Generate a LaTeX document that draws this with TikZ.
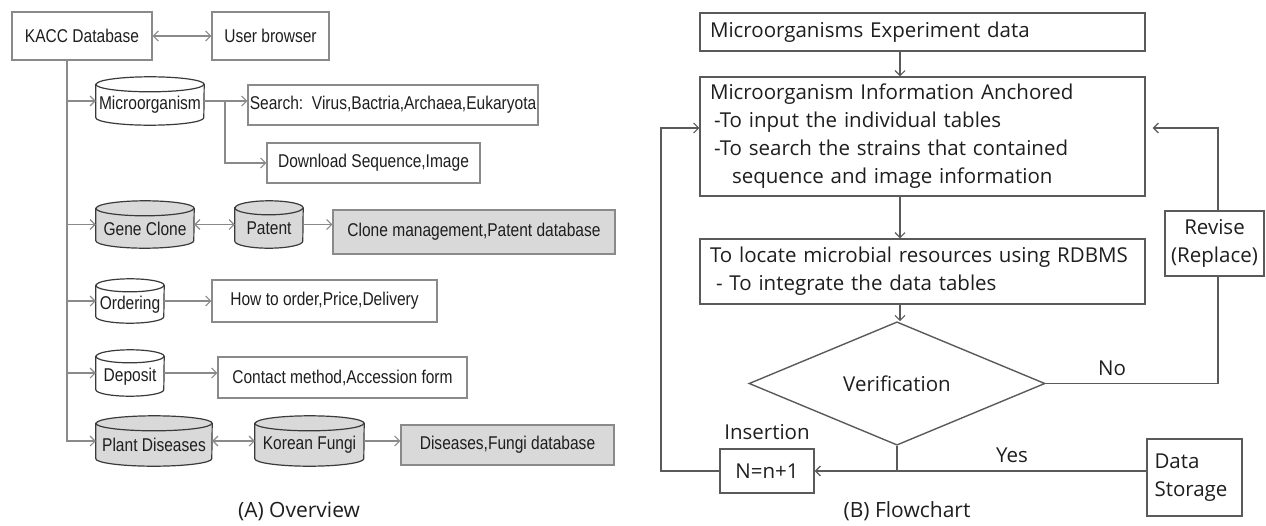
\documentclass[tikz,border=0pt]{standalone}
\usepackage{fontspec}
\usetikzlibrary{shapes.geometric,arrows.meta,calc,backgrounds}
\newfontfamily\lfont[FakeStretch=0.84]{Liberation Sans}
\newfontfamily\rfont{Open Sans}
\definecolor{lline}{HTML}{8A8A8A}
\definecolor{cylline}{HTML}{3A3A3A}
\definecolor{gfill}{HTML}{D9D9D9}
\definecolor{rline}{HTML}{5A5A5A}
\definecolor{txt}{HTML}{1E1E1E}
% cylinder outline drawn behind a named rectangle node: name, x radius, y radius, fill
\newcommand\dbcyl[4]{%
  \begin{scope}[on background layer]
    \filldraw[draw=cylline, line width=1.2pt, fill=#4]
      ($(#1.north west)+(0,#3)$) -- ($(#1.south west)+(0,-#3)$)
      arc[start angle=180, end angle=360, x radius=#2pt, y radius=#3pt]
      -- ($(#1.north east)+(0,#3)$)
      arc[start angle=0, end angle=180, x radius=#2pt, y radius=#3pt] -- cycle;
    \draw[draw=cylline, line width=1.2pt] ($(#1.north west)+(0,#3)$)
      arc[start angle=180, end angle=360, x radius=#2pt, y radius=#3pt];
  \end{scope}}
\newcommand\lowtext[1]{\raisebox{-4pt}[\height][\depth]{#1}}
\begin{document}
\begin{tikzpicture}[x=1pt,y=-1pt,
  ltext/.style={font=\lfont\fontsize{18.5}{21}\selectfont, text=txt},
  rtext/.style={font=\rfont\fontsize{20.5}{28}\selectfont, text=txt},
  lbox/.style={ltext, draw=lline, line width=1.2pt, inner sep=0pt, minimum width=#1},
  gbox/.style={lbox=#1, fill=gfill},
  db/.style={ltext, rectangle, inner sep=0pt, minimum width=#1},
  rbox/.style={rtext, draw=rline, line width=1.4pt, inner sep=0pt, minimum width=#1},
  lcon/.style={draw=lline, line width=1.2pt},
  rcon/.style={draw=rline, line width=1.4pt},
  tip/.style={-{Straight Barb[length=5pt,width=10pt,line width=1.1pt]}},
  dtip/.style={{Straight Barb[length=5pt,width=10pt,line width=1.1pt]}-{Straight Barb[length=5pt,width=10pt,line width=1.1pt]}},
  captext/.style={font=\rfont\fontsize{21}{24}\selectfont, text=txt}
]
\useasboundingbox (0,0) rectangle (1266,525);

% ---------- (A) Overview ----------
\node[lbox=140pt, minimum height=48pt] (kacc) at (82,36) {KACC Database};
\node[lbox=117pt, minimum height=48pt] (user) at (270.5,36) {User browser};
\node[db=108pt, minimum height=48pt] (micro) at (150,101) {\lowtext{Microorganism}};
\node[lbox=290pt, minimum height=40pt] (search) at (393,105) {Search:\ \ Virus,Bactria,Archaea,Eukaryota};
\node[lbox=213pt, minimum height=40pt] (download) at (373.5,163) {Download Sequence,Image};
\node[db=98pt, minimum height=47pt] (gene) at (145,224.5) {\lowtext{Gene Clone}};
\node[db=68pt, minimum height=47pt] (patent) at (269,224.5) {\lowtext{Patent}};
\node[gbox=282pt, minimum height=44pt] (clone) at (474,232) {Clone management,Patent database};
\node[db=68pt, minimum height=44pt] (ordering) at (130,301) {\lowtext{Ordering}};
\node[lbox=225pt, minimum height=42pt] (howto) at (324.5,301) {How to order,Price,Delivery};
\node[db=68pt, minimum height=46pt] (deposit) at (130,373) {\lowtext{Deposit}};
\node[lbox=249pt, minimum height=41pt] (contact) at (342.5,377.5) {Contact method,Accession form};
\node[db=116pt, minimum height=50pt] (plant) at (154,441) {\lowtext{Plant Diseases}};
\node[db=109pt, minimum height=50pt] (korean) at (309.5,441) {\lowtext{Korean Fungi}};
\node[gbox=213pt, minimum height=40pt] (diseases) at (507.5,445) {Diseases,Fungi database};

\dbcyl{micro}{54}{7.5}{white}
\dbcyl{gene}{49}{7.5}{gfill}
\dbcyl{patent}{34}{7}{gfill}
\dbcyl{ordering}{34}{6.5}{white}
\dbcyl{deposit}{34}{6.5}{white}
\dbcyl{plant}{58}{7.5}{gfill}
\dbcyl{korean}{54.5}{7.5}{gfill}

\coordinate (t0) at (67,60);
\coordinate (m1) at (225,101);

\draw[lcon,dtip] (kacc) -- (user);
\draw[lcon] (t0) -- (67,442);
\draw[lcon,tip] (t0) |- (micro.west);
\draw[lcon,tip] (t0) |- (gene.west);
\draw[lcon,tip] (t0) |- (ordering.west);
\draw[lcon,tip] (t0) |- (deposit.west);
\draw[lcon,tip] (t0) |- (plant.west);
\draw[lcon] (micro.east) -- (m1);
\draw[lcon,tip] (m1) -- (m1 -| search.west);
\draw[lcon,tip] (m1) |- (download.west);
\draw[lcon,dtip] (gene.east) -- (patent.west);
\draw[lcon,tip] (patent.east) -- (patent.east -| clone.west);
\draw[lcon,tip] (ordering.east) -- (ordering.east -| howto.west);
\draw[lcon,tip] (deposit.east) -- (deposit.east -| contact.west);
\draw[lcon,dtip] (plant.east) -- (korean.west);
\draw[lcon,tip] (korean.east) -- (korean.east -| diseases.west);

\node[captext] (capA) at (299,511) {(A) Overview};

% ---------- (B) Flowchart ----------
\node[rbox=445pt, minimum height=38pt, text width=425pt, align=left] (exp) at (922.5,32) {Microorganisms Experiment data};
\node[rbox=445pt, minimum height=119pt, text width=425pt, align=left] (info) at (922.5,136.5)
  {Microorganism Information Anchored\\
   \hspace*{4pt}-To input the individual tables\\
   \hspace*{4pt}-To search the strains that contained\\
   \hspace*{22pt}sequence and image information};
\node[rbox=445pt, minimum height=65pt, text width=425pt, align=left] (rdbms) at (922.5,271.5)
  {To locate microbial resources using RDBMS\\
   \hspace*{6pt}- To integrate the data tables};
\node[rtext, diamond, draw=rline, line width=1.4pt, inner sep=0pt, minimum width=296pt, minimum height=93pt] (verif) at (897,383.5) {Verification};
\node[rbox=99pt, minimum height=65pt, align=center] (revise) at (1214.5,243.5) {Revise\\(Replace)};
\node[rbox=94pt, minimum height=44pt] (nbox) at (767,471) {N=n+1};
\node[rbox=95pt, minimum height=77pt, text width=80pt, align=left] (storage) at (1194.5,477.5) {Data\\Storage};

\node[rtext] (nolab) at (1112,368) {No};
\node[rtext] (yeslab) at (1012,455) {Yes};
\node[rtext] (inslab) at (767,432) {Insertion};

\coordinate (lp) at (661,128);
\coordinate (rp) at (1218,128);

\draw[rcon,tip] (exp.south -| 900,0) -- (info.north -| 900,0);
\draw[rcon,tip] (info.south -| 900,0) -- (rdbms.north -| 900,0);
\draw[rcon,tip] (rdbms.south -| 900,0) -- (verif.north -| 900,0);
\draw[rcon] (verif.east) -| (revise.south -| rp);
\draw[rcon,tip,shorten >=7pt] (revise.north -| rp) -- (rp) -- (rp -| info.east);
\draw[rcon] (verif.south) -- (verif.south |- nbox.east);
\draw[rcon,tip] (storage.west |- nbox.east) -- (nbox.east);
\draw[rcon,tip] (nbox.west) -| (lp) -- (lp -| info.west);

\node[captext] (capB) at (907,511) {(B) Flowchart};
\end{tikzpicture}
\end{document}
